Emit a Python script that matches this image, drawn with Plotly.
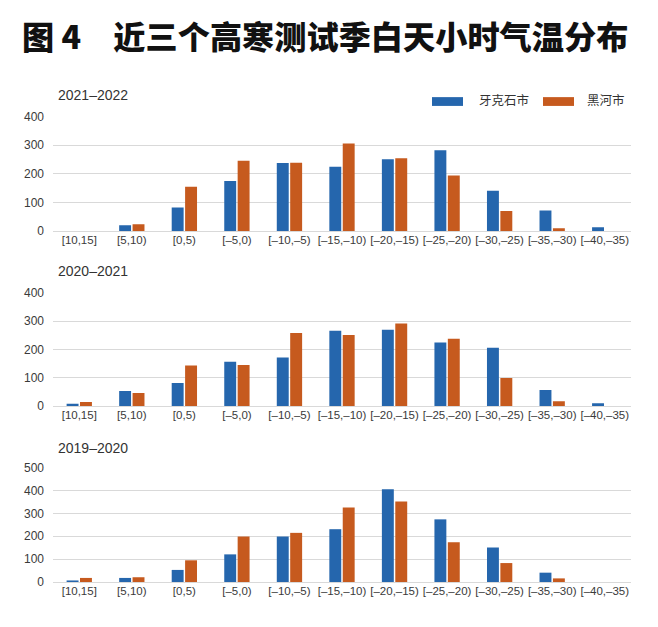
import plotly.graph_objects as go

categories = ["[10,15]", "[5,10)", "[0,5)", "[–5,0)", "[–10,–5)", "[–15,–10)",
              "[–20,–15)", "[–25,–20)", "[–30,–25)", "[–35,–30)", "[–40,–35)"]

seasons = ["2021–2022", "2020–2021", "2019–2020"]

yakeshi_2122 = [0, 20, 82, 175, 238, 225, 251, 283, 141, 72, 13]
heihe_2122 = [0, 24, 155, 246, 239, 306, 255, 194, 70, 10, 0]

yakeshi_2021 = [8, 53, 81, 156, 171, 266, 269, 224, 206, 57, 10]
heihe_2021 = [14, 46, 143, 145, 258, 251, 291, 237, 99, 17, 0]

yakeshi_1920 = [7, 18, 53, 121, 199, 231, 406, 274, 151, 41, 0]
heihe_1920 = [18, 21, 95, 199, 215, 326, 352, 174, 83, 16, 0]

y_ticks = [[0, 100, 200, 300, 400], [0, 100, 200, 300, 400], [0, 100, 200, 300, 400, 500]]
y_max = [400, 400, 500]

series_names = ["牙克石市", "黑河市"]
BLUE = "#2566ad"
ORANGE = "#c65a1e"

W, H = 658, 627
OFF = 8  # page body margin offset
def py(px):
    return 1 - (px - OFF) / H
def pxx(px):
    return (px - OFF) / W

panels = [
    (yakeshi_2122, heihe_2122, 112, 229, 90),
    (yakeshi_2021, heihe_2021, 292, 408, 270),
    (yakeshi_1920, heihe_1920, 471, 588, 451),
]

fig = go.Figure()
annotations = []
TICKFONT = dict(family="Liberation Sans, Arial, sans-serif", size=12, color="#3a3a3a")
XTICKFONT = dict(family="Liberation Sans, Arial, sans-serif", size=11.5, color="#3a3a3a")

for i, (a, b, top, bot, sub_y) in enumerate(panels):
    n = "" if i == 0 else str(i + 1)
    xa, ya = "x" + n, "y" + n
    fig.add_trace(go.Bar(x=categories, y=a, name=series_names[0], marker_color=BLUE,
                         marker_line_width=0, xaxis=xa, yaxis=ya, showlegend=False))
    fig.add_trace(go.Bar(x=categories, y=b, name=series_names[1], marker_color=ORANGE,
                         marker_line_width=0, xaxis=xa, yaxis=ya, showlegend=False))
    fig.layout["xaxis" + n] = dict(
        domain=[pxx(53), pxx(631)], anchor=ya, type="category",
        range=[-0.5, 10.5], showgrid=False, showline=False, zeroline=False,
        ticks="", tickfont=XTICKFONT, tickangle=0, fixedrange=True,
    )
    fig.layout["yaxis" + n] = dict(
        domain=[py(bot), py(top)], anchor=xa, range=[0, y_max[i]],
        tickvals=y_ticks[i], showgrid=True, gridcolor="#d9d9d9", gridwidth=1,
        zeroline=True, zerolinecolor="#d9d9d9", zerolinewidth=1, showline=False,
        ticks="", tickfont=TICKFONT, ticklabelstandoff=8, fixedrange=True,
    )
    annotations.append(dict(
        text=seasons[i], x=pxx(56), y=py(sub_y), xref="paper", yref="paper",
        xanchor="left", yanchor="middle", showarrow=False,
        font=dict(family="Liberation Sans, Arial, sans-serif", size=14, color="#333333"),
    ))

# title
annotations.append(dict(
    text="图 4　近三个高寒测试季白天小时气温分布", x=pxx(20), y=py(28),
    xref="paper", yref="paper", xanchor="left", yanchor="middle", showarrow=False,
    font=dict(family="Noto Sans CJK SC", size=32.2, color="#111111", weight=900),
))

# legend (drawn as paper-space swatches + labels)
shapes = []
legend_items = [(432, 463, BLUE, series_names[0], 477), (543, 574, ORANGE, series_names[1], 585)]
for x0, x1, col, label, tx in legend_items:
    shapes.append(dict(type="rect", xref="paper", yref="paper",
                       x0=pxx(x0), x1=pxx(x1), y0=py(101), y1=py(92),
                       fillcolor=col, line=dict(width=0)))
    annotations.append(dict(
        text=label, x=pxx(tx), y=py(94), xref="paper", yref="paper",
        xanchor="left", yanchor="middle", showarrow=False,
        font=dict(family="Noto Sans CJK SC", size=12.5, color="#333333"),
    ))

fig.update_layout(
    width=W, height=H, margin=dict(l=0, r=0, t=0, b=0),
    paper_bgcolor="white", plot_bgcolor="white",
    barmode="group", bargap=0.49, bargroupgap=0.11,
    annotations=annotations, shapes=shapes, showlegend=False,
)

fig.write_html("out.html")
